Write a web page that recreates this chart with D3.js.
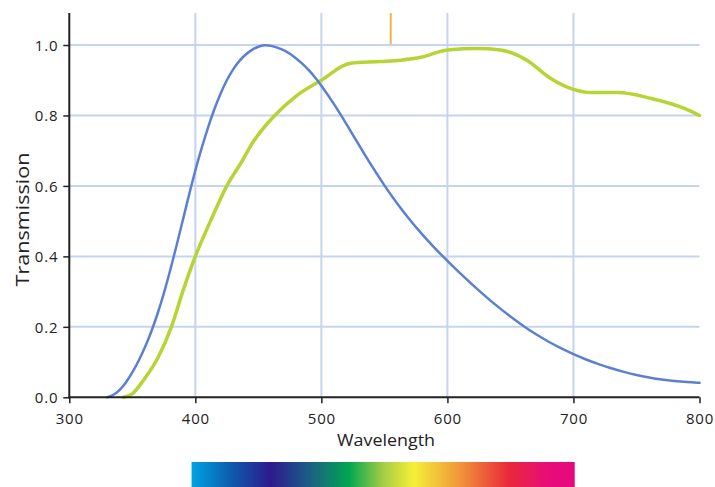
<!DOCTYPE html>
<html>
<head>
<meta charset="utf-8">
<script src="https://cdn.jsdelivr.net/npm/d3@7"></script>
<style>
  html, body { margin: 0; padding: 0; background: #fff; }
  svg { display: block; }
  text { font-family: "Open Sans", "DejaVu Sans", sans-serif; fill: #222; }
</style>
</head>
<body>
<svg id="chart" width="715" height="487"></svg>
<script>
// ---- data ----
const blueWavelengths = [330, 335, 340, 345, 350, 355, 360, 365, 370, 375, 380, 385, 390, 395, 400, 405, 410, 415, 420, 425, 430, 435, 440, 445, 450, 455, 460, 465, 470, 475, 480, 485, 490, 495, 500, 510, 520, 530, 540, 550, 560, 570, 580, 590, 600, 610, 620, 630, 640, 650, 660, 670, 680, 690, 700, 710, 720, 730, 740, 750, 760, 770, 780, 790, 800];
const blueValues      = [0, 0.006, 0.02, 0.042, 0.07, 0.103, 0.141, 0.185, 0.236, 0.294, 0.359, 0.429, 0.502, 0.575, 0.645, 0.708, 0.766, 0.818, 0.863, 0.901, 0.932, 0.956, 0.974, 0.987, 0.996, 1.0, 0.998, 0.993, 0.986, 0.976, 0.962, 0.947, 0.929, 0.908, 0.885, 0.833, 0.775, 0.715, 0.656, 0.601, 0.55, 0.504, 0.462, 0.423, 0.387, 0.352, 0.319, 0.287, 0.257, 0.229, 0.203, 0.179, 0.158, 0.139, 0.122, 0.107, 0.094, 0.082, 0.072, 0.063, 0.056, 0.05, 0.046, 0.043, 0.041];

const greenWavelengths = [343, 350, 359, 370, 381, 390, 400, 412, 425, 437, 445, 463, 480, 500, 523, 547, 563, 579, 600, 624, 642, 663, 682, 700, 714, 735, 761, 788, 800];
const greenValues      = [0, 0.01, 0.049, 0.11, 0.2, 0.3, 0.4, 0.5, 0.6, 0.67, 0.72, 0.8, 0.855, 0.9, 0.948, 0.953, 0.957, 0.965, 0.986, 0.99, 0.986, 0.957, 0.905, 0.874, 0.865, 0.865, 0.849, 0.82, 0.8];

const markerWavelength = 555;

const xTicks = [300, 400, 500, 600, 700, 800];
const yTicks = [0.0, 0.2, 0.4, 0.6, 0.8, 1.0];
const xLabel = "Wavelength";
const yLabel = "Transmission";

const spectrumRange = [397, 701];
const spectrumStops = [0, 0.1, 0.206, 0.3, 0.41, 0.5, 0.58, 0.7, 0.83, 0.93, 1];
const spectrumColors = ["#00a3e4", "#0b5eae", "#2d1a8d", "#1c5a87", "#00a651", "#a4cd45", "#f6f036", "#f0963b", "#e8283a", "#e80c78", "#e6097f"];

// ---- layout ----
(function () {
const svg = d3.select("#chart");
const mLeft = 69.3, mRight = 699.5, mTop = 13, mBottom = 397.3;
const x = d3.scaleLinear().domain([300, 800]).range([mLeft, mRight]);
const y = d3.scaleLinear().domain([0, 1]).range([mBottom, mBottom - 352.3]);

const gridColor = "#c5d4ef";

// grid
const g = svg.append("g");
g.selectAll(".vgrid").data(xTicks.filter(d => d > 300 && d < 800)).enter().append("line")
  .attr("x1", d => x(d)).attr("x2", d => x(d))
  .attr("y1", mTop).attr("y2", mBottom)
  .attr("stroke", gridColor).attr("stroke-width", 2);
g.selectAll(".hgrid").data(yTicks.filter(d => d > 0)).enter().append("line")
  .attr("x1", mLeft).attr("x2", mRight)
  .attr("y1", d => y(d)).attr("y2", d => y(d))
  .attr("stroke", gridColor).attr("stroke-width", 2);

// marker
svg.append("line")
  .attr("x1", x(markerWavelength)).attr("x2", x(markerWavelength))
  .attr("y1", mTop).attr("y2", y(1.0) - 1)
  .attr("stroke", "#f4b24a").attr("stroke-width", 2);

// curves
const greenLine = d3.line().x(d => x(d[0])).y(d => y(d[1])).curve(d3.curveMonotoneX);
const blueLine = d3.line().x(d => x(d[0])).y(d => y(d[1])).curve(d3.curveBasis);
svg.append("path")
  .datum(greenWavelengths.map((w, i) => [w, greenValues[i]]))
  .attr("d", greenLine).attr("fill", "none")
  .attr("stroke", "#b6d434").attr("stroke-width", 3.5).attr("stroke-linecap", "round");
svg.append("path")
  .datum(blueWavelengths.map((w, i) => [w, blueValues[i]]))
  .attr("d", blueLine).attr("fill", "none")
  .attr("stroke", "#5b80d3").attr("stroke-width", 2.5).attr("stroke-linecap", "round");

// axes
const xAxis = d3.axisBottom(x).tickValues(xTicks).tickFormat(d3.format("d")).tickSize(6).tickSizeOuter(0);
const yAxis = d3.axisLeft(y).tickValues(yTicks).tickFormat(d3.format(".1f")).tickSize(6).tickSizeOuter(0);

const gx = svg.append("g").attr("transform", `translate(0,${mBottom})`).call(xAxis);
const gy = svg.append("g").attr("transform", `translate(${mLeft},0)`).call(yAxis);
gy.select(".domain").remove();
gx.select(".domain").remove();
svg.append("line").attr("x1", mLeft).attr("x2", mLeft).attr("y1", mTop).attr("y2", mBottom + 1)
  .attr("stroke", "#222").attr("stroke-width", 2);
svg.append("line").attr("x1", mLeft - 1).attr("x2", mRight).attr("y1", mBottom).attr("y2", mBottom)
  .attr("stroke", "#222").attr("stroke-width", 2);

[gx, gy].forEach(a => {
  a.selectAll(".tick line").attr("stroke", "#222").attr("stroke-width", 1.5);
  a.selectAll(".tick text").style("font-size", "15px").style("letter-spacing", "0.8px")
    .style("font-family", "'Open Sans', sans-serif").attr("fill", "#222");
});
gx.selectAll(".tick text").attr("dy", "0").attr("y", 26.5);
gy.selectAll(".tick text").attr("x", -11).attr("dy", "0.36em");

// axis titles
svg.append("text").attr("x", 386).attr("y", 446)
  .attr("text-anchor", "middle").style("font-size", "17px")
  .attr("textLength", 98).attr("lengthAdjust", "spacingAndGlyphs").text(xLabel);
svg.append("text").attr("transform", "translate(29,219.5) rotate(-90)")
  .attr("text-anchor", "middle").style("font-size", "19px")
  .attr("textLength", 134).attr("lengthAdjust", "spacingAndGlyphs").text(yLabel);

// spectrum bar
const defs = svg.append("defs");
const grad = defs.append("linearGradient").attr("id", "spec").attr("x1", "0%").attr("x2", "100%");
grad.selectAll("stop").data(spectrumStops).enter().append("stop")
  .attr("offset", d => d * 100 + "%")
  .attr("stop-color", (d, i) => spectrumColors[i]);
svg.append("rect")
  .attr("x", x(spectrumRange[0])).attr("width", x(spectrumRange[1]) - x(spectrumRange[0]))
  .attr("y", 462).attr("height", 25)
  .attr("fill", "url(#spec)");
})();
</script>
</body>
</html>
